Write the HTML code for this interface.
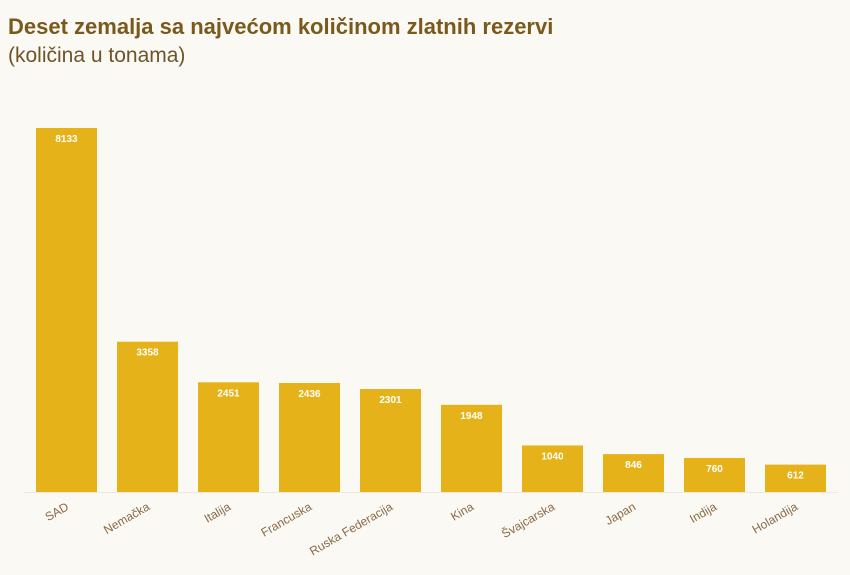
<!DOCTYPE html>
<html><head><meta charset="utf-8"><style>
body{margin:0;background:#faf9f4;width:850px;height:575px;overflow:hidden;font-family:"Liberation Sans",sans-serif;}
.t{position:absolute;left:8px;top:14px;font-size:22px;font-weight:bold;color:#7a5a1c;}
.s{position:absolute;left:8px;top:44px;font-size:21px;color:#6f5428;}
</style></head><body>
<div class="t">Deset zemalja sa najvećom količinom zlatnih rezervi</div>
<div class="s">(količina u tonama)</div>
<svg id="c" width="850" height="575" style="position:absolute;left:0;top:0"></svg>
<script>
const categories=["SAD","Nemačka","Italija","Francuska","Ruska Federacija","Kina","Švajcarska","Japan","Indija","Holandija"];
const values=[8133,3358,2451,2436,2301,1948,1040,846,760,612];
const svg=document.getElementById('c');const NS='http://www.w3.org/2000/svg';
const base=492,maxV=8133,maxH=364,x0=36,step=81,bw=61;
const y=v=>base-v/maxV*maxH;
const axis=document.createElementNS(NS,'line');


axis.setAttribute('x1',24);axis.setAttribute('x2',838);axis.setAttribute('y1',base+0.5);axis.setAttribute('y2',base+0.5);axis.setAttribute('stroke','#ece8dc');
svg.appendChild(axis);
categories.forEach((c,i)=>{
 const x=x0+i*step,top=y(values[i]);
 const r=document.createElementNS(NS,'rect');
 
 
 r.setAttribute('x',x);r.setAttribute('y',top);r.setAttribute('width',bw);r.setAttribute('height',base-top);r.setAttribute('fill','#e6b21a');
 svg.appendChild(r);
 const v=document.createElementNS(NS,'text');
 
 
 v.setAttribute('x',x+bw/2);v.setAttribute('y',top+14);v.setAttribute('text-anchor','middle');v.setAttribute('font-size','10');v.setAttribute('font-weight','bold');v.setAttribute('fill','#fff');
 v.textContent=values[i];svg.appendChild(v);
 const l=document.createElementNS(NS,'text');
 
 
 const cx=x+bw/2+3,cy=base+17;
 l.setAttribute('x',cx);l.setAttribute('y',cy);l.setAttribute('text-anchor','end');l.setAttribute('font-size','12');l.setAttribute('fill','#8a6a48');
 l.setAttribute('transform','rotate(-30 '+cx+' '+cy+')');
 l.textContent=c;svg.appendChild(l);
});
</script>
</body></html>
